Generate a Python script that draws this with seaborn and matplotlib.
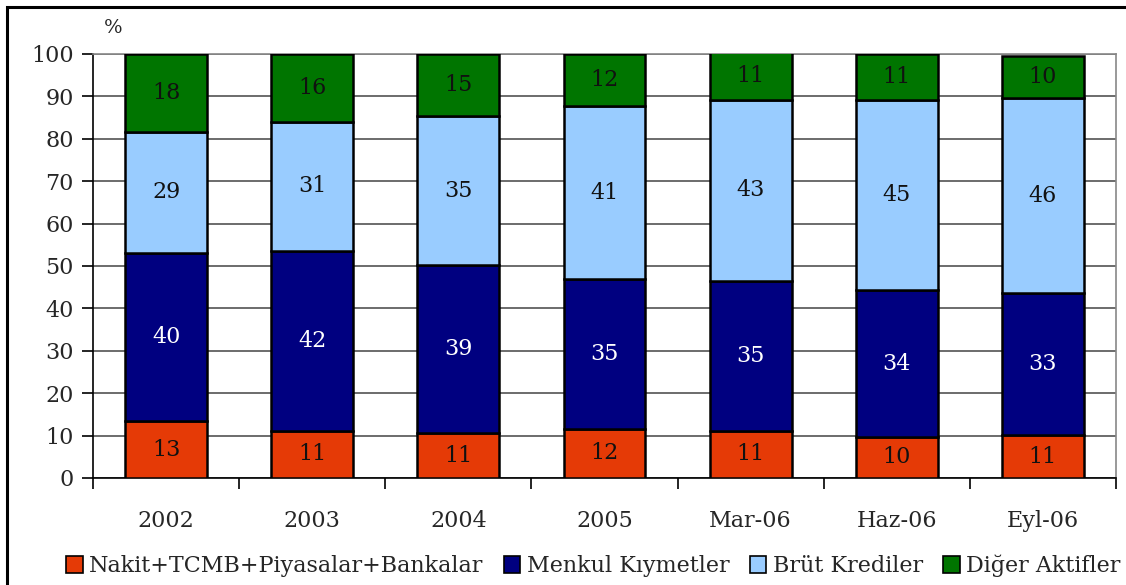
import matplotlib
matplotlib.use("Agg")
import matplotlib.pyplot as plt
import seaborn as sns
import numpy as np
import pandas as pd
from matplotlib.patches import Rectangle, Patch

categories = ["2002", "2003", "2004", "2005", "Mar-06", "Haz-06", "Eyl-06"]
nakit = [13.4, 11.1, 10.6, 11.6, 11.1, 9.7, 10.1]
menkul = [39.7, 42.4, 39.6, 35.3, 35.4, 34.6, 33.5]
kredi = [28.5, 30.5, 35.2, 40.8, 42.7, 44.9, 46.0]
diger = [18.4, 16.0, 14.6, 12.3, 11.3, 10.8, 9.9]
label_nakit = [13, 11, 11, 12, 11, 10, 11]
label_menkul = [40, 42, 39, 35, 35, 34, 33]
label_kredi = [29, 31, 35, 41, 43, 45, 46]
label_diger = [18, 16, 15, 12, 11, 11, 10]
series_names = ["Nakit+TCMB+Piyasalar+Bankalar", "Menkul Kıymetler",
                "Brüt Krediler", "Diğer Aktifler"]
colors = ["#E53A06", "#000080", "#99CCFF", "#007500"]
text_colors = ["#111111", "#FFFFFF", "#111111", "#111111"]

sns.set_style("white")
plt.rcParams['font.family'] = ['DejaVu Serif']

fig = plt.figure(figsize=(11.26, 5.85), dpi=100)
ax = fig.add_axes([93/1126, 1-478/585, (1116-93)/1126, (478-54)/585])

values = [nakit, menkul, kredi, diger]
labels = [label_nakit, label_menkul, label_kredi, label_diger]
bottom = np.zeros(len(categories))
for vals, labs, name, col, tcol in zip(values, labels, series_names, colors, text_colors):
    df = pd.DataFrame({"cat": categories, "val": vals})
    sns.barplot(data=df, x="cat", y="val", ax=ax, color=col, width=0.56,
                bottom=bottom, edgecolor="black", linewidth=1.8,
                saturation=1, zorder=3)
    v = np.array(vals)
    for i, (b, h, l) in enumerate(zip(bottom, v, labs)):
        ax.text(i, b + h / 2, str(l), ha="center", va="center",
                fontsize=16, color=tcol, zorder=5)
    bottom = bottom + v

if ax.get_legend() is not None:
    ax.get_legend().remove()

ax.set_xlim(-0.5, len(categories) - 0.5)
ax.set_ylim(0, 100)
ax.set_yticks(np.arange(0, 101, 10))
ax.set_xlabel("")
ax.set_ylabel("")
ax.yaxis.grid(True, color="#444444", linewidth=1.1, zorder=0)
ax.set_axisbelow(True)
ax.tick_params(axis="y", which="major", direction="out", length=8, width=1.2,
               color="black", labelsize=16, pad=6, left=True)
ax.set_xticks(np.arange(len(categories)))
ax.set_xticklabels(categories, fontsize=16)
ax.tick_params(axis="x", which="major", length=0, pad=23, bottom=True)
ax.set_xticks(np.arange(-0.5, len(categories)), minor=True)
ax.tick_params(axis="x", which="minor", direction="out", length=8, width=1.2,
               color="black", bottom=True)
for s in ["left", "bottom"]:
    ax.spines[s].set_color("black")
    ax.spines[s].set_linewidth(1.2)
for s in ["top", "right"]:
    ax.spines[s].set_color("#888888")
    ax.spines[s].set_linewidth(1.2)

fig.text(113/1126, 1-28/585, "%", fontsize=14, ha="center", va="center")

handles = [Patch(facecolor=c, edgecolor="black", linewidth=1.2) for c in colors]
leg = fig.legend(handles, series_names, loc="center", bbox_to_anchor=(0.527, 1-566/585),
                 ncol=4, frameon=False, fontsize=16, handlelength=0.75,
                 handleheight=0.75, handletextpad=0.3, columnspacing=0.9,
                 borderaxespad=0)

fig.patches.append(Rectangle((7/1126, -0.02), 1.2, 1-7/585 + 0.02,
                             transform=fig.transFigure, fill=False,
                             edgecolor="black", linewidth=2.2))

fig.savefig("out.png", dpi=100)
